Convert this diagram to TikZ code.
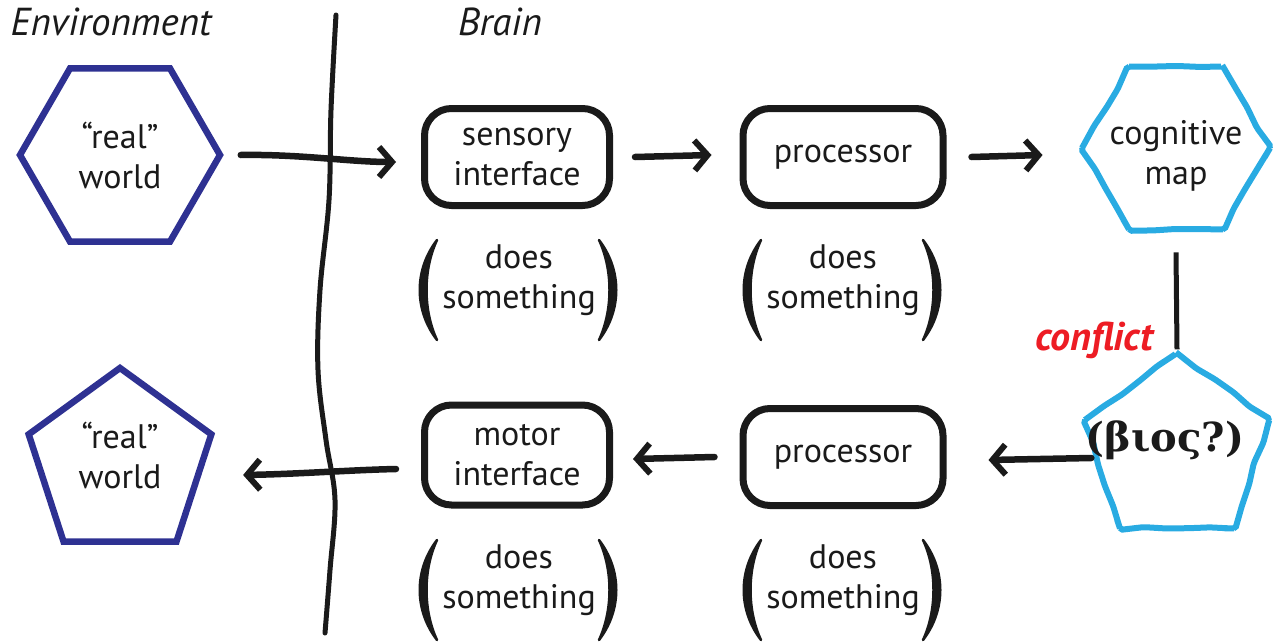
\documentclass[tikz,border=0pt]{standalone}
\usepackage{fontspec}
\setmainfont{PT Sans}
\newfontfamily\grkfont{DejaVu Serif}
\usetikzlibrary{arrows.meta,shapes.geometric,decorations.pathmorphing}

\definecolor{ink}{HTML}{1A1A1A}
\definecolor{envblue}{HTML}{2E3192}
\definecolor{mapblue}{HTML}{29ABE2}
\definecolor{alarm}{HTML}{ED1C24}

\begin{document}
\begin{tikzpicture}[x=1pt,y=-1pt,
  txt/.style={font=\fontsize{34}{40}\selectfont, align=center, text=ink},
  module/.style={txt, draw=ink, line width=7pt, rounded corners=27pt,
    minimum width=185pt, minimum height=97pt, inner sep=0pt},
  world/.style={txt, draw=envblue, line width=6.5pt, regular polygon, inner sep=0pt},
  mind/.style={txt, draw=mapblue, line width=6pt, regular polygon, inner sep=0pt,
    decorate, decoration={random steps, segment length=22pt, amplitude=1.4pt},
    rounded corners=2pt},
  flow/.style={draw=ink, line width=6.5pt, line cap=round,
    -{Straight Barb[length=13pt,width=30pt,line width=6pt]}},
  heading/.style={font=\fontsize{39}{44}\selectfont\itshape, text=ink},
  lparen/.pic={\filldraw[ink, line width=2.5pt, line join=round]
    (8,-50) .. controls (-15,-20) and (-15,20) .. (8,50)
            .. controls (-6,20) and (-6,-20) .. (8,-50) -- cycle;},
]
\pgfmathsetseed{7}
\useasboundingbox (0,0) rectangle (1274,643);

% headings
\node[heading] (env) at (111,22) {Environment};
\node[heading] (brain) at (500,22) {Brain};

% boundary between environment and brain
\draw[ink, line width=5pt, line cap=round] plot[smooth, tension=0.6] coordinates
  {(336,15) (331,110) (329,200) (320,290) (318,370) (326,440) (335,500) (330,570) (325,633)};

% environment
\node[world, regular polygon sides=6, minimum size=200pt] (rw1) at (120,155) {“real”\\world};
\node[world, regular polygon sides=5, minimum size=192pt,
  label={[txt, yshift=9pt, name=rw2text]center:“real”\\world}] (rw2) at (120,464) {};

% brain modules
\node[module] (sens) at (517,157) {sensory\\interface};
\node[module, minimum width=200pt] (proc1) at (843,157) {processor};
\node[module, minimum width=200pt] (proc2) at (843,457) {processor};
\node[module, minimum height=100pt] (motor) at (517,455) {motor\\interface};

\node[mind, regular polygon sides=6, minimum size=188pt,
  label={[txt, yshift=-8pt, name=cmaptext]center:cognitive\\map}] (cmap) at (1176,148) {};
\node[mind, regular polygon sides=5, minimum size=194pt,
  label={[font=\grkfont\bfseries\fontsize{40}{46}\selectfont, text=ink,
          xshift=-12pt, yshift=10pt, name=biostext]center:(βιος?)}] (bios) at (1177,450) {};

\node[font=\fontsize{40}{44}\selectfont\bfseries\itshape, text=alarm] (clash) at (1094,340) {conflict};

% annotations
\foreach \nm/\cx/\cy in {n1/519/280, n2/843/280, n3/519/580, n4/843/580}{
  \node[txt] (\nm) at (\cx,\cy) {does\\something};
  \pic at (\cx-90,\cy+10) {lparen};
  \pic[xscale=-1] at (\cx+88,\cy+10) {lparen};
}

% connectors
\draw[flow] ([xshift=17pt]rw1.east) .. controls (300,154) and (350,162) .. ([xshift=-25pt,yshift=-5pt]sens.west);
\draw[flow] ([xshift=22pt]sens.east) -- ([xshift=-28pt,yshift=2pt]proc1.west);
\draw[flow] ([xshift=25pt]proc1.east) -- ([xshift=-36pt,yshift=-7pt]cmap.west);
\draw[ink, line width=5pt] ([yshift=-20pt]cmap.south) -- (bios.corner 1);
\draw[flow] ([yshift=-8pt]bios.west) -- ([xshift=42pt,yshift=-3pt]proc2.east);
\draw[flow] ([xshift=-25pt]proc2.west) -- ([xshift=20pt,yshift=-4pt]motor.east);
\draw[flow] ([xshift=-25pt,yshift=-14pt]motor.west) .. controls (350,470) and (300,474) .. ([xshift=38pt,yshift=-11pt]rw2.east);
\end{tikzpicture}
\end{document}
